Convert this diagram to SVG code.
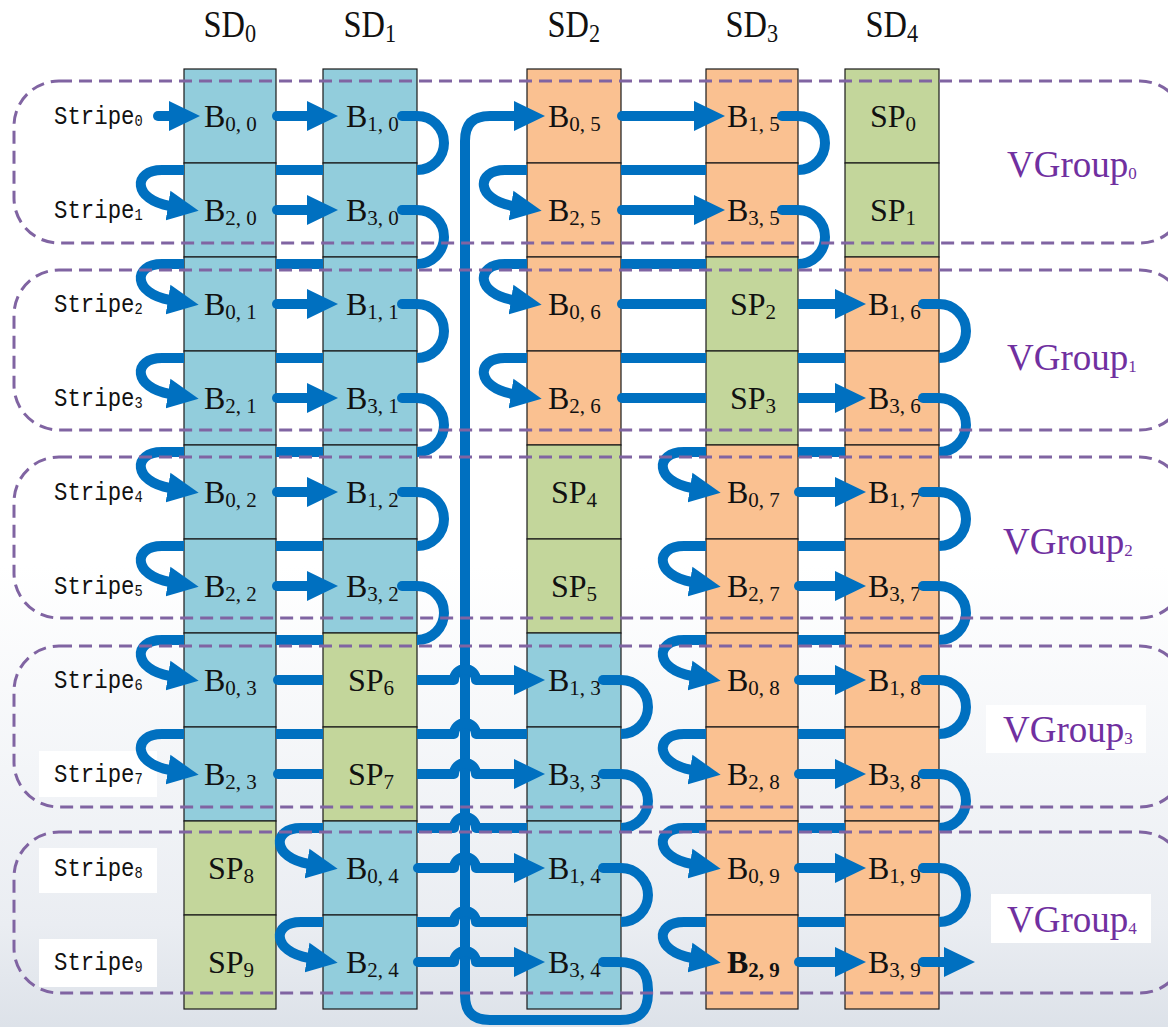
<svg xmlns="http://www.w3.org/2000/svg" width="1168" height="1027" viewBox="0 0 1168 1027">
<defs>
<linearGradient id="bg" x1="0" y1="0" x2="0" y2="1">
<stop offset="0" stop-color="#ffffff"/>
<stop offset="0.55" stop-color="#ffffff"/>
<stop offset="0.75" stop-color="#F3F5F8"/>
<stop offset="0.9" stop-color="#EAEDF2"/>
<stop offset="1" stop-color="#DDE2E9"/>
</linearGradient>
<marker id="ah" markerUnits="userSpaceOnUse" markerWidth="32" markerHeight="32" viewBox="0 0 32 32" refX="2" refY="16" orient="auto">
<path d="M0,1 L31,16 L0,31 z" fill="#0070C0"/>
</marker>
<style>
.cell{stroke:#1a1a1a;stroke-width:1.2}
.blue{fill:#92CDDC}
.orange{fill:#FAC191}
.green{fill:#C3D69B}
.bl{font-family:"Liberation Serif",serif;font-size:32px;fill:#111}
.s{font-size:21px}
.hd{font-family:"Liberation Serif",serif;font-size:38px;fill:#111}
.hs{font-size:26px}
.st{font-family:"Liberation Mono",monospace;font-size:26px;fill:#111}
.sts{font-size:16px}
.vgt{font-family:"Liberation Serif",serif;font-size:37px;fill:#7030A0}
.vgs{font-size:17px}
.c{fill:none;stroke:#0070C0;stroke-width:10;stroke-linecap:round;stroke-linejoin:round}
.b{stroke-linecap:butt}
.m{marker-end:url(#ah)}
.vg{fill:none;stroke:#8064A2;stroke-width:3;stroke-dasharray:13 7}
.box{fill:#ffffff}
</style>
</defs>
<rect x="0" y="0" width="1168" height="1027" fill="url(#bg)"/>

<g id="label-boxes">
<rect class="box" x="39" y="751" width="118" height="46"/>
<rect class="box" x="39" y="848" width="118" height="45"/>
<rect class="box" x="39" y="939" width="118" height="48"/>
<rect class="box" x="986" y="705" width="160" height="48"/>
<rect class="box" x="991" y="894" width="160" height="49"/>
</g>

<g id="headers">
<text class="hd" transform="translate(203.5,37) scale(0.855,1)">SD<tspan class="hs" dy="5">0</tspan></text>
<text class="hd" transform="translate(343.5,37) scale(0.855,1)">SD<tspan class="hs" dy="5">1</tspan></text>
<text class="hd" transform="translate(547.5,37) scale(0.855,1)">SD<tspan class="hs" dy="5">2</tspan></text>
<text class="hd" transform="translate(725.5,37) scale(0.855,1)">SD<tspan class="hs" dy="5">3</tspan></text>
<text class="hd" transform="translate(865.5,37) scale(0.855,1)">SD<tspan class="hs" dy="5">4</tspan></text>
</g>

<!-- SD0 -->
<g id="sd0-r0"><rect class="cell blue" x="184" y="69" width="92" height="94"/><text class="bl" x="204" y="127">B<tspan class="s" dy="4">0, 0</tspan></text></g>
<g id="sd0-r1"><rect class="cell blue" x="184" y="163" width="92" height="94"/><text class="bl" x="204" y="221">B<tspan class="s" dy="4">2, 0</tspan></text></g>
<g id="sd0-r2"><rect class="cell blue" x="184" y="257" width="92" height="94"/><text class="bl" x="204" y="315">B<tspan class="s" dy="4">0, 1</tspan></text></g>
<g id="sd0-r3"><rect class="cell blue" x="184" y="351" width="92" height="94"/><text class="bl" x="204" y="409">B<tspan class="s" dy="4">2, 1</tspan></text></g>
<g id="sd0-r4"><rect class="cell blue" x="184" y="445" width="92" height="94"/><text class="bl" x="204" y="503">B<tspan class="s" dy="4">0, 2</tspan></text></g>
<g id="sd0-r5"><rect class="cell blue" x="184" y="539" width="92" height="94"/><text class="bl" x="204" y="597">B<tspan class="s" dy="4">2, 2</tspan></text></g>
<g id="sd0-r6"><rect class="cell blue" x="184" y="633" width="92" height="94"/><text class="bl" x="204" y="691">B<tspan class="s" dy="4">0, 3</tspan></text></g>
<g id="sd0-r7"><rect class="cell blue" x="184" y="727" width="92" height="94"/><text class="bl" x="204" y="785">B<tspan class="s" dy="4">2, 3</tspan></text></g>
<g id="sd0-r8"><rect class="cell green" x="184" y="821" width="92" height="94"/><text class="bl" x="208" y="879">SP<tspan class="s" dy="4">8</tspan></text></g>
<g id="sd0-r9"><rect class="cell green" x="184" y="915" width="92" height="94"/><text class="bl" x="208" y="973">SP<tspan class="s" dy="4">9</tspan></text></g>

<!-- SD1 -->
<g id="sd1-r0"><rect class="cell blue" x="323" y="69" width="94" height="94"/><text class="bl" x="346" y="127">B<tspan class="s" dy="4">1, 0</tspan></text></g>
<g id="sd1-r1"><rect class="cell blue" x="323" y="163" width="94" height="94"/><text class="bl" x="346" y="221">B<tspan class="s" dy="4">3, 0</tspan></text></g>
<g id="sd1-r2"><rect class="cell blue" x="323" y="257" width="94" height="94"/><text class="bl" x="346" y="315">B<tspan class="s" dy="4">1, 1</tspan></text></g>
<g id="sd1-r3"><rect class="cell blue" x="323" y="351" width="94" height="94"/><text class="bl" x="346" y="409">B<tspan class="s" dy="4">3, 1</tspan></text></g>
<g id="sd1-r4"><rect class="cell blue" x="323" y="445" width="94" height="94"/><text class="bl" x="346" y="503">B<tspan class="s" dy="4">1, 2</tspan></text></g>
<g id="sd1-r5"><rect class="cell blue" x="323" y="539" width="94" height="94"/><text class="bl" x="346" y="597">B<tspan class="s" dy="4">3, 2</tspan></text></g>
<g id="sd1-r6"><rect class="cell green" x="323" y="633" width="94" height="94"/><text class="bl" x="348" y="691">SP<tspan class="s" dy="4">6</tspan></text></g>
<g id="sd1-r7"><rect class="cell green" x="323" y="727" width="94" height="94"/><text class="bl" x="348" y="785">SP<tspan class="s" dy="4">7</tspan></text></g>
<g id="sd1-r8"><rect class="cell blue" x="323" y="821" width="94" height="94"/><text class="bl" x="346" y="879">B<tspan class="s" dy="4">0, 4</tspan></text></g>
<g id="sd1-r9"><rect class="cell blue" x="323" y="915" width="94" height="94"/><text class="bl" x="346" y="973">B<tspan class="s" dy="4">2, 4</tspan></text></g>

<!-- SD2 -->
<g id="sd2-r0"><rect class="cell orange" x="527" y="69" width="94" height="94"/><text class="bl" x="548" y="127">B<tspan class="s" dy="4">0, 5</tspan></text></g>
<g id="sd2-r1"><rect class="cell orange" x="527" y="163" width="94" height="94"/><text class="bl" x="548" y="221">B<tspan class="s" dy="4">2, 5</tspan></text></g>
<g id="sd2-r2"><rect class="cell orange" x="527" y="257" width="94" height="94"/><text class="bl" x="548" y="315">B<tspan class="s" dy="4">0, 6</tspan></text></g>
<g id="sd2-r3"><rect class="cell orange" x="527" y="351" width="94" height="94"/><text class="bl" x="548" y="409">B<tspan class="s" dy="4">2, 6</tspan></text></g>
<g id="sd2-r4"><rect class="cell green" x="527" y="445" width="94" height="94"/><text class="bl" x="551" y="503">SP<tspan class="s" dy="4">4</tspan></text></g>
<g id="sd2-r5"><rect class="cell green" x="527" y="539" width="94" height="94"/><text class="bl" x="551" y="597">SP<tspan class="s" dy="4">5</tspan></text></g>
<g id="sd2-r6"><rect class="cell blue" x="527" y="633" width="94" height="94"/><text class="bl" x="548" y="691">B<tspan class="s" dy="4">1, 3</tspan></text></g>
<g id="sd2-r7"><rect class="cell blue" x="527" y="727" width="94" height="94"/><text class="bl" x="548" y="785">B<tspan class="s" dy="4">3, 3</tspan></text></g>
<g id="sd2-r8"><rect class="cell blue" x="527" y="821" width="94" height="94"/><text class="bl" x="548" y="879">B<tspan class="s" dy="4">1, 4</tspan></text></g>
<g id="sd2-r9"><rect class="cell blue" x="527" y="915" width="94" height="94"/><text class="bl" x="548" y="973">B<tspan class="s" dy="4">3, 4</tspan></text></g>

<!-- SD3 -->
<g id="sd3-r0"><rect class="cell orange" x="706" y="69" width="92" height="94"/><text class="bl" x="727" y="127">B<tspan class="s" dy="4">1, 5</tspan></text></g>
<g id="sd3-r1"><rect class="cell orange" x="706" y="163" width="92" height="94"/><text class="bl" x="727" y="221">B<tspan class="s" dy="4">3, 5</tspan></text></g>
<g id="sd3-r2"><rect class="cell green" x="706" y="257" width="92" height="94"/><text class="bl" x="730" y="315">SP<tspan class="s" dy="4">2</tspan></text></g>
<g id="sd3-r3"><rect class="cell green" x="706" y="351" width="92" height="94"/><text class="bl" x="730" y="409">SP<tspan class="s" dy="4">3</tspan></text></g>
<g id="sd3-r4"><rect class="cell orange" x="706" y="445" width="92" height="94"/><text class="bl" x="727" y="503">B<tspan class="s" dy="4">0, 7</tspan></text></g>
<g id="sd3-r5"><rect class="cell orange" x="706" y="539" width="92" height="94"/><text class="bl" x="727" y="597">B<tspan class="s" dy="4">2, 7</tspan></text></g>
<g id="sd3-r6"><rect class="cell orange" x="706" y="633" width="92" height="94"/><text class="bl" x="727" y="691">B<tspan class="s" dy="4">0, 8</tspan></text></g>
<g id="sd3-r7"><rect class="cell orange" x="706" y="727" width="92" height="94"/><text class="bl" x="727" y="785">B<tspan class="s" dy="4">2, 8</tspan></text></g>
<g id="sd3-r8"><rect class="cell orange" x="706" y="821" width="92" height="94"/><text class="bl" x="727" y="879">B<tspan class="s" dy="4">0, 9</tspan></text></g>
<g id="sd3-r9"><rect class="cell orange" x="706" y="915" width="92" height="94"/><text class="bl" x="727" y="973" font-weight="bold">B<tspan class="s" dy="4">2, 9</tspan></text></g>

<!-- SD4 -->
<g id="sd4-r0"><rect class="cell green" x="845" y="69" width="94" height="94"/><text class="bl" x="870" y="127">SP<tspan class="s" dy="4">0</tspan></text></g>
<g id="sd4-r1"><rect class="cell green" x="845" y="163" width="94" height="94"/><text class="bl" x="870" y="221">SP<tspan class="s" dy="4">1</tspan></text></g>
<g id="sd4-r2"><rect class="cell orange" x="845" y="257" width="94" height="94"/><text class="bl" x="868" y="315">B<tspan class="s" dy="4">1, 6</tspan></text></g>
<g id="sd4-r3"><rect class="cell orange" x="845" y="351" width="94" height="94"/><text class="bl" x="868" y="409">B<tspan class="s" dy="4">3, 6</tspan></text></g>
<g id="sd4-r4"><rect class="cell orange" x="845" y="445" width="94" height="94"/><text class="bl" x="868" y="503">B<tspan class="s" dy="4">1, 7</tspan></text></g>
<g id="sd4-r5"><rect class="cell orange" x="845" y="539" width="94" height="94"/><text class="bl" x="868" y="597">B<tspan class="s" dy="4">3, 7</tspan></text></g>
<g id="sd4-r6"><rect class="cell orange" x="845" y="633" width="94" height="94"/><text class="bl" x="868" y="691">B<tspan class="s" dy="4">1, 8</tspan></text></g>
<g id="sd4-r7"><rect class="cell orange" x="845" y="727" width="94" height="94"/><text class="bl" x="868" y="785">B<tspan class="s" dy="4">3, 8</tspan></text></g>
<g id="sd4-r8"><rect class="cell orange" x="845" y="821" width="94" height="94"/><text class="bl" x="868" y="879">B<tspan class="s" dy="4">1, 9</tspan></text></g>
<g id="sd4-r9"><rect class="cell orange" x="845" y="915" width="94" height="94"/><text class="bl" x="868" y="973">B<tspan class="s" dy="4">3, 9</tspan></text></g>

<g id="connectors" fill="#0070C0">
<!-- long loop: B3,4 around the bottom and up to B0,5 -->
<circle cx="603" cy="962" r="5"/>
<path class="c b m" d="M603,962 H618 C640,962 648,972 648,990 V993 C648,1011 640,1020 620,1020 H490 C473,1020 465,1012 465,995 V141 C465,124 473,116 490,116 H516"/>

<!-- SD0 / SD1 snake -->
<path class="c m" d="M158,116 H171"/>
<path class="c m" d="M277,116 H309"/>
<circle cx="402" cy="116" r="5"/><path class="c b" d="M402,116 H417 A27,27 0 0 1 417,170"/>
<path class="c b" d="M276,170 H323"/>
<path class="c b m" d="M184,170 H162 C132,170 133,200 170,206"/>

<path class="c m" d="M277,210 H309"/>
<circle cx="402" cy="210" r="5"/><path class="c b" d="M402,210 H417 A27,27 0 0 1 417,264"/>
<path class="c b" d="M276,264 H323"/>
<path class="c b m" d="M184,264 H162 C132,264 133,294 170,300"/>

<path class="c m" d="M277,304 H309"/>
<circle cx="402" cy="304" r="5"/><path class="c b" d="M402,304 H417 A27,27 0 0 1 417,358"/>
<path class="c b" d="M276,358 H323"/>
<path class="c b m" d="M184,358 H162 C132,358 133,388 170,394"/>

<path class="c m" d="M277,398 H309"/>
<circle cx="402" cy="398" r="5"/><path class="c b" d="M402,398 H417 A27,27 0 0 1 417,452"/>
<path class="c b" d="M276,452 H323"/>
<path class="c b m" d="M184,452 H162 C132,452 133,482 170,488"/>

<path class="c m" d="M277,492 H309"/>
<circle cx="402" cy="492" r="5"/><path class="c b" d="M402,492 H417 A27,27 0 0 1 417,546"/>
<path class="c b" d="M276,546 H323"/>
<path class="c b m" d="M184,546 H162 C132,546 133,576 170,582"/>

<path class="c m" d="M277,586 H309"/>
<circle cx="402" cy="586" r="5"/><path class="c b" d="M402,586 H417 A27,27 0 0 1 417,640"/>
<path class="c b" d="M276,640 H323"/>
<path class="c b m" d="M184,640 H162 C132,640 133,670 170,676"/>

<!-- row 6 -->
<circle cx="278" cy="680" r="5"/><path class="c b" d="M278,680 H323"/>
<path class="c b m" d="M417,680 H454 A11,11 0 0 1 476,680 H516"/>
<circle cx="603" cy="680" r="5"/><path class="c b" d="M603,680 H621 A27,27 0 0 1 621,734"/>
<path class="c b" d="M417,734 H454 A11,11 0 0 1 476,734 H527"/>
<path class="c b" d="M276,734 H323"/>
<path class="c b m" d="M184,734 H162 C132,734 133,764 170,770"/>

<!-- row 7 -->
<circle cx="278" cy="774" r="5"/><path class="c b" d="M278,774 H323"/>
<path class="c b m" d="M417,774 H454 A11,11 0 0 1 476,774 H516"/>
<circle cx="603" cy="774" r="5"/><path class="c b" d="M603,774 H621 A27,27 0 0 1 621,828"/>
<path class="c b" d="M417,828 H454 A11,11 0 0 1 476,828 H527"/>
<path class="c b m" d="M323,828 H301 C271,828 272,858 309,864"/>

<!-- row 8 -->
<path class="c m" d="M418,868 H454 A11,11 0 0 1 476,868 H516"/>
<circle cx="603" cy="868" r="5"/><path class="c b" d="M603,868 H621 A27,27 0 0 1 621,922"/>
<path class="c b" d="M417,922 H454 A11,11 0 0 1 476,922 H527"/>
<path class="c b m" d="M323,922 H301 C271,922 272,952 309,958"/>

<!-- row 9 -->
<path class="c m" d="M418,962 H454 A11,11 0 0 1 476,962 H516"/>

<!-- SD2 / SD3 / SD4 snake -->
<path class="c m" d="M622,116 H696"/>
<circle cx="782" cy="116" r="5"/><path class="c b" d="M782,116 H798 A27,27 0 0 1 798,170"/>
<path class="c b" d="M621,170 H706"/>
<path class="c b m" d="M527,170 H505 C475,170 476,200 513,206"/>

<path class="c m" d="M622,210 H696"/>
<circle cx="782" cy="210" r="5"/><path class="c b" d="M782,210 H798 A27,27 0 0 1 798,264"/>
<path class="c b" d="M621,264 H706"/>
<path class="c b m" d="M527,264 H505 C475,264 476,294 513,300"/>

<circle cx="622" cy="304" r="5"/><path class="c b" d="M622,304 H706"/>
<path class="c b m" d="M798,304 H837"/>
<circle cx="923" cy="304" r="5"/><path class="c b" d="M923,304 H939 A27,27 0 0 1 939,358"/>
<path class="c b" d="M798,358 H845"/>
<path class="c b" d="M621,358 H706"/>
<path class="c b m" d="M527,358 H505 C475,358 476,388 513,394"/>

<circle cx="622" cy="398" r="5"/><path class="c b" d="M622,398 H706"/>
<path class="c b m" d="M798,398 H837"/>
<circle cx="923" cy="398" r="5"/><path class="c b" d="M923,398 H939 A27,27 0 0 1 939,452"/>
<path class="c b" d="M798,452 H845"/>
<path class="c b m" d="M706,452 H684 C654,452 655,482 692,488"/>

<path class="c m" d="M799,492 H837"/>
<circle cx="923" cy="492" r="5"/><path class="c b" d="M923,492 H939 A27,27 0 0 1 939,546"/>
<path class="c b" d="M798,546 H845"/>
<path class="c b m" d="M706,546 H684 C654,546 655,576 692,582"/>

<path class="c m" d="M799,586 H837"/>
<circle cx="923" cy="586" r="5"/><path class="c b" d="M923,586 H939 A27,27 0 0 1 939,640"/>
<path class="c b" d="M798,640 H845"/>
<path class="c b m" d="M706,640 H684 C654,640 655,670 692,676"/>

<path class="c m" d="M799,680 H837"/>
<circle cx="923" cy="680" r="5"/><path class="c b" d="M923,680 H939 A27,27 0 0 1 939,734"/>
<path class="c b" d="M798,734 H845"/>
<path class="c b m" d="M706,734 H684 C654,734 655,764 692,770"/>

<path class="c m" d="M799,774 H837"/>
<circle cx="923" cy="774" r="5"/><path class="c b" d="M923,774 H939 A27,27 0 0 1 939,828"/>
<path class="c b" d="M798,828 H845"/>
<path class="c b m" d="M706,828 H684 C654,828 655,858 692,864"/>

<path class="c m" d="M799,868 H837"/>
<circle cx="923" cy="868" r="5"/><path class="c b" d="M923,868 H939 A27,27 0 0 1 939,922"/>
<path class="c b" d="M798,922 H845"/>
<path class="c b m" d="M706,922 H684 C654,922 655,952 692,958"/>

<path class="c m" d="M799,962 H837"/>
<path class="c m" d="M923,962 H946"/>
</g>

<g id="vgroups">
<rect class="vg" x="14" y="81" width="1171" height="162" rx="45"/>
<rect class="vg" x="14" y="270" width="1171" height="160" rx="45"/>
<rect class="vg" x="14" y="457" width="1171" height="161" rx="45"/>
<rect class="vg" x="14" y="646" width="1171" height="161" rx="45"/>
<rect class="vg" x="14" y="832" width="1171" height="161" rx="45"/>
</g>

<g id="stripe-labels">
<text class="st" transform="translate(54,124) scale(0.86,1)">Stripe<tspan class="sts" dy="2">0</tspan></text>
<text class="st" transform="translate(54,218) scale(0.86,1)">Stripe<tspan class="sts" dy="2">1</tspan></text>
<text class="st" transform="translate(54,312) scale(0.86,1)">Stripe<tspan class="sts" dy="2">2</tspan></text>
<text class="st" transform="translate(54,406) scale(0.86,1)">Stripe<tspan class="sts" dy="2">3</tspan></text>
<text class="st" transform="translate(54,500) scale(0.86,1)">Stripe<tspan class="sts" dy="2">4</tspan></text>
<text class="st" transform="translate(54,594) scale(0.86,1)">Stripe<tspan class="sts" dy="2">5</tspan></text>
<text class="st" transform="translate(54,688) scale(0.86,1)">Stripe<tspan class="sts" dy="2">6</tspan></text>
<text class="st" transform="translate(54,782) scale(0.86,1)">Stripe<tspan class="sts" dy="2">7</tspan></text>
<text class="st" transform="translate(54,876) scale(0.86,1)">Stripe<tspan class="sts" dy="2">8</tspan></text>
<text class="st" transform="translate(54,970) scale(0.86,1)">Stripe<tspan class="sts" dy="2">9</tspan></text>
</g>

<g id="vgroup-labels">
<text class="vgt" x="1007" y="177">VGroup<tspan class="vgs" dy="2">0</tspan></text>
<text class="vgt" x="1007" y="370">VGroup<tspan class="vgs" dy="2">1</tspan></text>
<text class="vgt" x="1003" y="554">VGroup<tspan class="vgs" dy="2">2</tspan></text>
<text class="vgt" x="1003" y="742">VGroup<tspan class="vgs" dy="2">3</tspan></text>
<text class="vgt" x="1007" y="932">VGroup<tspan class="vgs" dy="2">4</tspan></text>
</g>
</svg>
